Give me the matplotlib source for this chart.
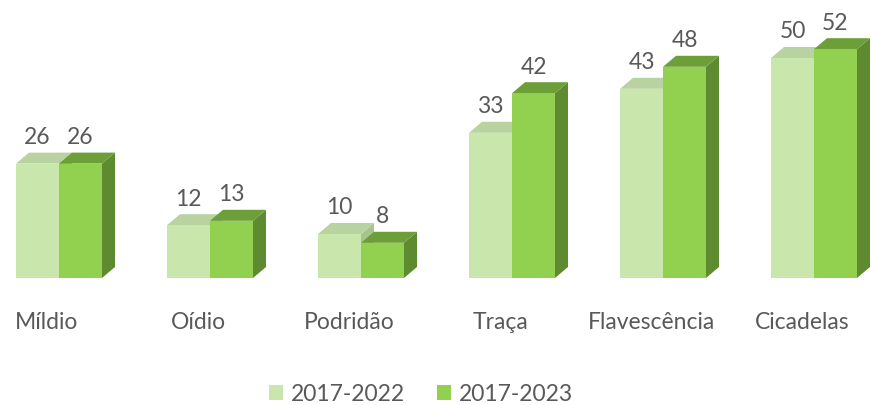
import matplotlib
matplotlib.use("Agg")
import matplotlib.pyplot as plt
from matplotlib.patches import Polygon, Patch

categories = ["Míldio", "Oídio", "Podridão", "Traça", "Flavescência", "Cicadelas"]
series_names = ["2017-2022", "2017-2023"]
values_2022 = [26, 12, 10, 33, 43, 50]
values_2023 = [26, 13, 8, 42, 48, 52]

front_colors = ["#c9e7ad", "#92d050"]
top_colors = ["#b9d3a0", "#6c9f38"]
side_colors = ["#a9c38f", "#5e8b2f"]
text_color = "#595959"
FONT = ["Lato", "DejaVu Sans"]
FS = 16.5

W, H, DPI = 871, 406, 100
fig = plt.figure(figsize=(W / DPI, H / DPI), dpi=DPI)
ax = fig.add_axes([0, 0, 1, 1])
# pixel mapping: x_px = 59 + 151*x ; y_px(from top) = 279 - 4.4*v
px_per_x = 151.0
px_per_v = 4.4
ax.set_xlim(-59 / px_per_x, (W - 59) / px_per_x)
ax.set_ylim(-(H - 279) / px_per_v, 279 / px_per_v)
ax.axis("off")

bw = 43 / px_per_x        # bar width in x units
ddx = 13 / px_per_x       # depth offset x
ddy = 11 / px_per_v       # depth offset y

def bar3d(x0, h, k, z):
    x1 = x0 + bw
    front = Polygon([(x0, 0), (x1, 0), (x1, h), (x0, h)], closed=True,
                    facecolor=front_colors[k], edgecolor="none", zorder=z)
    top = Polygon([(x0, h), (x1, h), (x1 + ddx, h + ddy), (x0 + ddx, h + ddy)],
                  closed=True, facecolor=top_colors[k], edgecolor="none", zorder=z)
    side = Polygon([(x1, 0), (x1 + ddx, ddy), (x1 + ddx, h + ddy), (x1, h)],
                   closed=True, facecolor=side_colors[k], edgecolor="none", zorder=z)
    for p in (side, top, front):
        ax.add_patch(p)

for i, cat in enumerate(categories):
    for k, vals in enumerate([values_2022, values_2023]):
        x0 = i - bw + k * bw
        v = vals[i]
        bar3d(x0, v, k, 2 + i * 2 + k)
        ax.text(x0 + bw / 2, v + ddy + 16 / px_per_v, f"{v}", ha="center", va="center",
                fontsize=FS, color=text_color, family=FONT, zorder=50)
    ax.text(i - 12 / px_per_x, -(323 - 279) / px_per_v, cat, ha="center", va="center",
            fontsize=FS, color=text_color, family=FONT)

handles = [Patch(facecolor=front_colors[k], edgecolor="none", label=series_names[k]) for k in range(2)]
leg = fig.legend(handles=handles, loc="center", bbox_to_anchor=(421 / W, 1 - 395 / H),
                 ncol=2, frameon=False, handlelength=0.6, handleheight=0.6,
                 handletextpad=0.35, columnspacing=1.4,
                 prop={"family": FONT, "size": FS})
for t in leg.get_texts():
    t.set_color(text_color)

fig.savefig("out.png", dpi=DPI)
